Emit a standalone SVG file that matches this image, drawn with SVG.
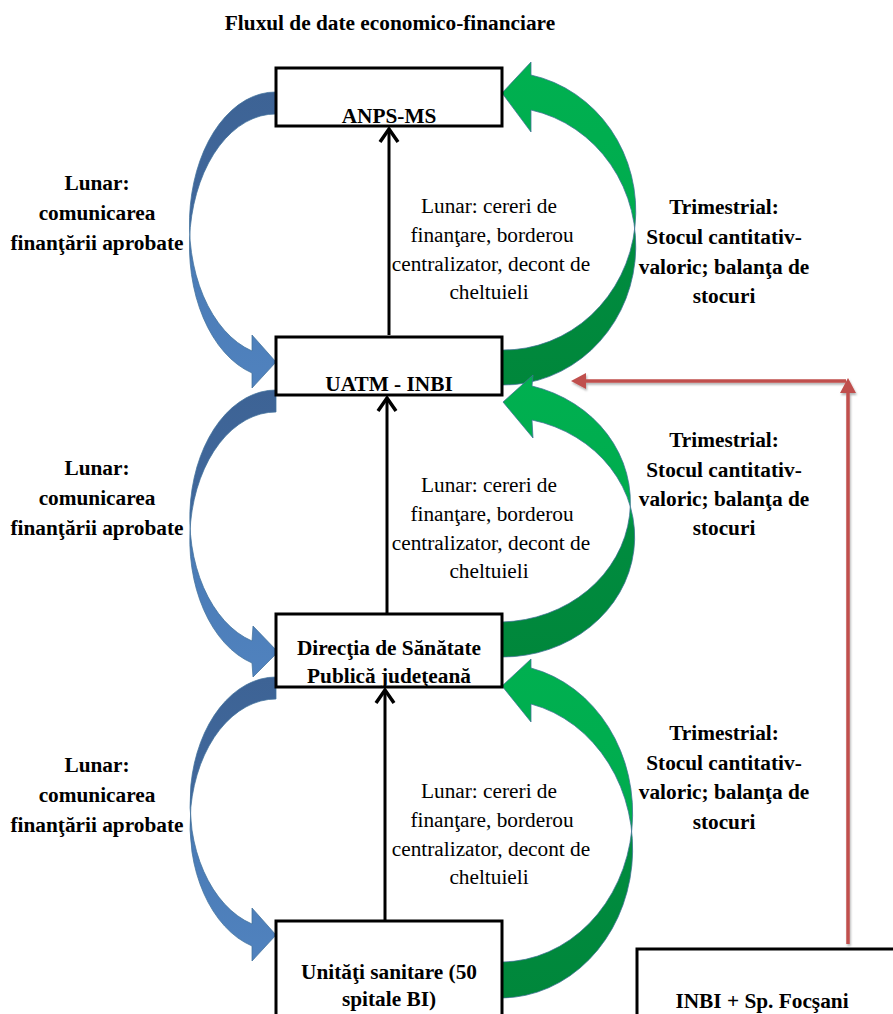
<svg xmlns="http://www.w3.org/2000/svg" width="893" height="1014" viewBox="0 0 893 1014">
<defs>
<style>
.t{font-family:"Liberation Serif","Times New Roman",serif;font-size:21.3px;fill:#000;text-anchor:middle}
.b{font-weight:bold}
.box{fill:#fff;stroke:#000;stroke-width:3}
.blk{stroke:#000;stroke-width:3;fill:none}
.red{stroke:#c0504d;stroke-width:3.5;fill:none}
.blue{fill:url(#gb);stroke:#41719c;stroke-width:0.75}
.green{fill:url(#gg);stroke:#3f7194;stroke-width:0.75}
</style>
<linearGradient id="gb" x1="0" y1="0" x2="0" y2="1">
<stop offset="0" stop-color="#3d6395"/>
<stop offset="0.42" stop-color="#41689c"/>
<stop offset="0.6" stop-color="#4b7cb7"/>
<stop offset="1" stop-color="#5082be"/>
</linearGradient>
<linearGradient id="gg" x1="0" y1="0" x2="0" y2="1">
<stop offset="0" stop-color="#00b050"/>
<stop offset="0.46" stop-color="#00ac4e"/>
<stop offset="0.54" stop-color="#008c3f"/>
<stop offset="1" stop-color="#00873b"/>
</linearGradient>
<marker id="chev" markerUnits="userSpaceOnUse" markerWidth="30" markerHeight="30" refX="0" refY="0" viewBox="-20 -15 30 30" orient="auto" overflow="visible">
<path d="M-13,-9 L0,0 L-13,9" fill="none" stroke="#000" stroke-width="3.5"/>
</marker>
<marker id="tri" markerUnits="userSpaceOnUse" markerWidth="30" markerHeight="30" refX="0" refY="0" viewBox="-5 -15 30 30" orient="auto" overflow="visible">
<path d="M0,-8 L15,0 L0,8 Z" fill="#c0504d"/>
</marker>
<filter id="sh" x="-20%" y="-20%" width="140%" height="140%">
<feDropShadow dx="1" dy="2" stdDeviation="1" flood-color="#000" flood-opacity="0.3"/>
</filter>
</defs>
<rect width="893" height="1014" fill="#fff"/>

<text class="t b" x="390" y="30">Fluxul de date economico-financiare</text>

<g id="curved-arrows">
<path id="blue1" class="blue" d="M276,92 A86,132 0 0 0 252,351 L252,335 L276,362 L252,388 L252,373 A86,132 0 0 1 276,114 Z"/>
<path id="blue2" class="blue" d="M276,390 A86,128 0 0 0 252,641 L253,626 L278,652 L253,677 L252,663 A86,128 0 0 1 276,412 Z"/>
<path id="blue3" class="blue" d="M276,677 A86,126 0 0 0 252,924 L252,908 L276,935 L252,961 L252,946 A86,126 0 0 1 276,699 Z"/>
<path id="green1" class="green" d="M502,385 A132,139 0 0 0 531,110 L531,132 L502,93 L531,62 L531,75 A132,139 0 0 1 502,350 Z"/>
<path id="green2" class="green" d="M502,657 A132,120 0 0 0 532,420 L533,438 L503,402 L533,375 L532,386 A132,120 0 0 1 502,622 Z"/>
<path id="green3" class="green" d="M502,998 A132,149 0 0 0 531,704 L531,722 L502,686 L531,659 L531,668 A132,149 0 0 1 502,962 Z"/>
</g>

<g id="anps"><rect class="box" x="276" y="68" width="226" height="58"/><text class="t b" x="389" y="123">ANPS-MS</text></g>
<g id="uatm"><rect class="box" x="276" y="337" width="226" height="58"/><text class="t b" x="389" y="391">UATM - INBI</text></g>
<g id="dsp"><rect class="box" x="276" y="614" width="226" height="73"/><text class="t b" x="389" y="655">Direcţia de Sănătate</text><text class="t b" x="389" y="683">Publică judeţeană</text></g>
<g id="unitati"><rect class="box" x="276" y="921" width="226" height="110"/><text class="t b" x="389" y="979">Unităţi sanitare (50</text><text class="t b" x="389" y="1006">spitale BI)</text></g>
<g id="inbi"><rect class="box" x="637" y="949" width="270" height="100"/><text class="t b" x="762" y="1008">INBI + Sp. Focşani</text></g>

<g id="connectors">
<path class="blk" d="M389,335 L389,129" marker-end="url(#chev)"/>
<path class="blk" d="M387,613 L387,398" marker-end="url(#chev)"/>
<path class="blk" d="M385,920 L385,690" marker-end="url(#chev)"/>
<g filter="url(#sh)">
<path class="red" d="M848,944 L848,393" marker-end="url(#tri)"/>
<path class="red" d="M846,381 L586,381" marker-end="url(#tri)"/>
</g>
</g>

<g id="labels">
<text class="t b" x="97"><tspan x="97" y="190">Lunar:</tspan><tspan x="97" y="220">comunicarea</tspan><tspan x="97" y="250">finanţării aprobate</tspan></text>
<text class="t b" x="97"><tspan x="97" y="475">Lunar:</tspan><tspan x="97" y="505">comunicarea</tspan><tspan x="97" y="535">finanţării aprobate</tspan></text>
<text class="t b" x="97"><tspan x="97" y="772">Lunar:</tspan><tspan x="97" y="802">comunicarea</tspan><tspan x="97" y="832">finanţării aprobate</tspan></text>

<text class="t" x="490"><tspan x="489" y="213">Lunar: cereri de</tspan><tspan x="492" y="242">finanţare, borderou</tspan><tspan x="491" y="271">centralizator, decont de</tspan><tspan x="489" y="299">cheltuieli</tspan></text>
<text class="t" x="490"><tspan x="489" y="492">Lunar: cereri de</tspan><tspan x="492" y="521">finanţare, borderou</tspan><tspan x="491" y="550">centralizator, decont de</tspan><tspan x="489" y="578">cheltuieli</tspan></text>
<text class="t" x="490"><tspan x="489" y="798">Lunar: cereri de</tspan><tspan x="492" y="827">finanţare, borderou</tspan><tspan x="491" y="856">centralizator, decont de</tspan><tspan x="489" y="884">cheltuieli</tspan></text>

<text class="t b" x="724"><tspan x="724" y="214">Trimestrial:</tspan><tspan x="724" y="244">Stocul cantitativ-</tspan><tspan x="724" y="274">valoric; balanţa de</tspan><tspan x="724" y="303">stocuri</tspan></text>
<text class="t b" x="724"><tspan x="724" y="447">Trimestrial:</tspan><tspan x="724" y="477">Stocul cantitativ-</tspan><tspan x="724" y="506">valoric; balanţa de</tspan><tspan x="724" y="535">stocuri</tspan></text>
<text class="t b" x="724"><tspan x="724" y="740">Trimestrial:</tspan><tspan x="724" y="770">Stocul cantitativ-</tspan><tspan x="724" y="799">valoric; balanţa de</tspan><tspan x="724" y="829">stocuri</tspan></text>
</g>
</svg>
